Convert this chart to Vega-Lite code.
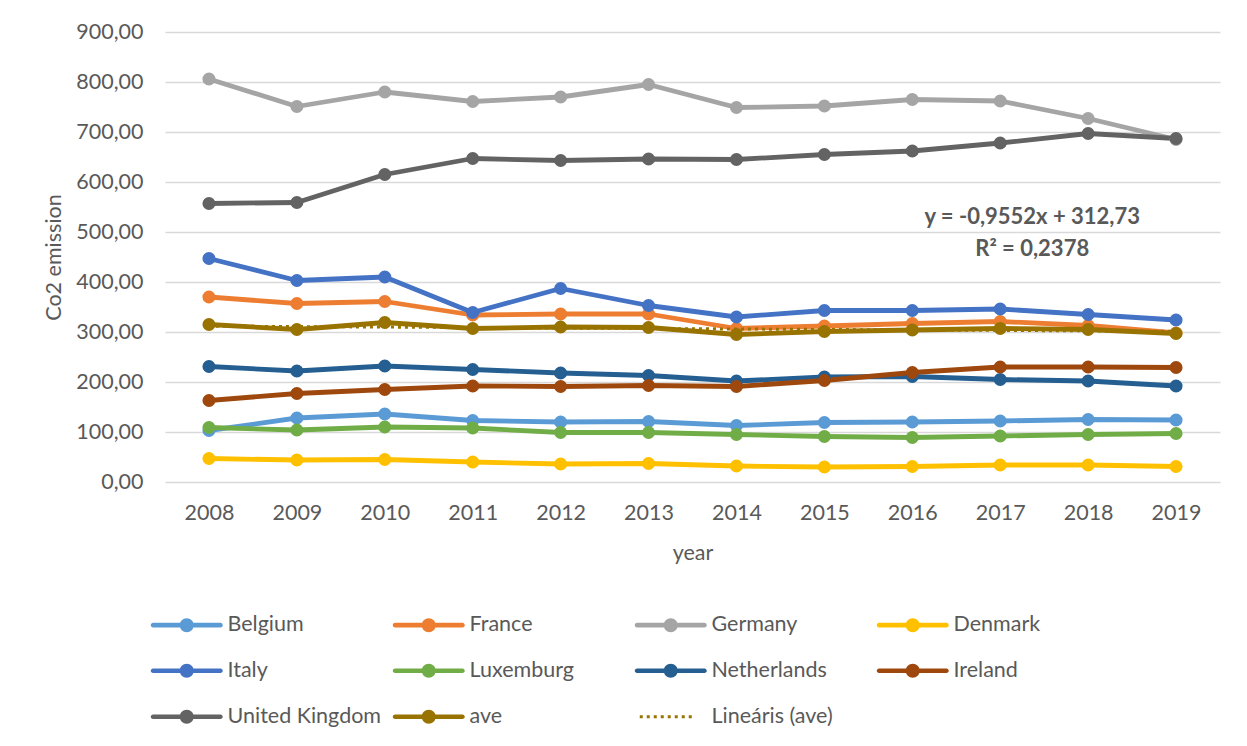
{
  "$schema": "https://vega.github.io/schema/vega-lite/v6.json",
  "width": 1055,
  "height": 450,
  "autosize": {"type": "none"},
  "padding": {"left": 165, "top": 32, "right": 27, "bottom": 264},
  "background": "white",
  "config": {
    "view": {"stroke": null},
    "font": "Lato",
    "axis": {"labelFont": "Lato", "titleFont": "Lato", "labelColor": "#595959", "titleColor": "#595959", "titleFontWeight": "normal"}
  },
  "data": {"values": [
    {"year": "2008", "series": "Belgium", "v": 103}, {"year": "2009", "series": "Belgium", "v": 128}, {"year": "2010", "series": "Belgium", "v": 136}, {"year": "2011", "series": "Belgium", "v": 123}, {"year": "2012", "series": "Belgium", "v": 120}, {"year": "2013", "series": "Belgium", "v": 121}, {"year": "2014", "series": "Belgium", "v": 113}, {"year": "2015", "series": "Belgium", "v": 119}, {"year": "2016", "series": "Belgium", "v": 120}, {"year": "2017", "series": "Belgium", "v": 122}, {"year": "2018", "series": "Belgium", "v": 125}, {"year": "2019", "series": "Belgium", "v": 124},
    {"year": "2008", "series": "France", "v": 370}, {"year": "2009", "series": "France", "v": 357}, {"year": "2010", "series": "France", "v": 361}, {"year": "2011", "series": "France", "v": 334}, {"year": "2012", "series": "France", "v": 336}, {"year": "2013", "series": "France", "v": 336}, {"year": "2014", "series": "France", "v": 307}, {"year": "2015", "series": "France", "v": 312}, {"year": "2016", "series": "France", "v": 317}, {"year": "2017", "series": "France", "v": 321}, {"year": "2018", "series": "France", "v": 313}, {"year": "2019", "series": "France", "v": 298},
    {"year": "2008", "series": "Germany", "v": 806}, {"year": "2009", "series": "Germany", "v": 751}, {"year": "2010", "series": "Germany", "v": 780}, {"year": "2011", "series": "Germany", "v": 761}, {"year": "2012", "series": "Germany", "v": 770}, {"year": "2013", "series": "Germany", "v": 795}, {"year": "2014", "series": "Germany", "v": 749}, {"year": "2015", "series": "Germany", "v": 752}, {"year": "2016", "series": "Germany", "v": 765}, {"year": "2017", "series": "Germany", "v": 762}, {"year": "2018", "series": "Germany", "v": 727}, {"year": "2019", "series": "Germany", "v": 685},
    {"year": "2008", "series": "Denmark", "v": 47}, {"year": "2009", "series": "Denmark", "v": 44}, {"year": "2010", "series": "Denmark", "v": 45}, {"year": "2011", "series": "Denmark", "v": 40}, {"year": "2012", "series": "Denmark", "v": 36}, {"year": "2013", "series": "Denmark", "v": 37}, {"year": "2014", "series": "Denmark", "v": 32}, {"year": "2015", "series": "Denmark", "v": 30}, {"year": "2016", "series": "Denmark", "v": 31}, {"year": "2017", "series": "Denmark", "v": 34}, {"year": "2018", "series": "Denmark", "v": 34}, {"year": "2019", "series": "Denmark", "v": 31},
    {"year": "2008", "series": "Italy", "v": 447}, {"year": "2009", "series": "Italy", "v": 403}, {"year": "2010", "series": "Italy", "v": 410}, {"year": "2011", "series": "Italy", "v": 339}, {"year": "2012", "series": "Italy", "v": 387}, {"year": "2013", "series": "Italy", "v": 353}, {"year": "2014", "series": "Italy", "v": 330}, {"year": "2015", "series": "Italy", "v": 343}, {"year": "2016", "series": "Italy", "v": 343}, {"year": "2017", "series": "Italy", "v": 346}, {"year": "2018", "series": "Italy", "v": 335}, {"year": "2019", "series": "Italy", "v": 324},
    {"year": "2008", "series": "Luxemburg", "v": 109}, {"year": "2009", "series": "Luxemburg", "v": 104}, {"year": "2010", "series": "Luxemburg", "v": 110}, {"year": "2011", "series": "Luxemburg", "v": 108}, {"year": "2012", "series": "Luxemburg", "v": 99}, {"year": "2013", "series": "Luxemburg", "v": 99}, {"year": "2014", "series": "Luxemburg", "v": 95}, {"year": "2015", "series": "Luxemburg", "v": 91}, {"year": "2016", "series": "Luxemburg", "v": 89}, {"year": "2017", "series": "Luxemburg", "v": 92}, {"year": "2018", "series": "Luxemburg", "v": 95}, {"year": "2019", "series": "Luxemburg", "v": 97},
    {"year": "2008", "series": "Netherlands", "v": 231}, {"year": "2009", "series": "Netherlands", "v": 222}, {"year": "2010", "series": "Netherlands", "v": 232}, {"year": "2011", "series": "Netherlands", "v": 225}, {"year": "2012", "series": "Netherlands", "v": 218}, {"year": "2013", "series": "Netherlands", "v": 213}, {"year": "2014", "series": "Netherlands", "v": 202}, {"year": "2015", "series": "Netherlands", "v": 210}, {"year": "2016", "series": "Netherlands", "v": 211}, {"year": "2017", "series": "Netherlands", "v": 205}, {"year": "2018", "series": "Netherlands", "v": 202}, {"year": "2019", "series": "Netherlands", "v": 192},
    {"year": "2008", "series": "Ireland", "v": 163}, {"year": "2009", "series": "Ireland", "v": 177}, {"year": "2010", "series": "Ireland", "v": 185}, {"year": "2011", "series": "Ireland", "v": 192}, {"year": "2012", "series": "Ireland", "v": 191}, {"year": "2013", "series": "Ireland", "v": 193}, {"year": "2014", "series": "Ireland", "v": 191}, {"year": "2015", "series": "Ireland", "v": 203}, {"year": "2016", "series": "Ireland", "v": 219}, {"year": "2017", "series": "Ireland", "v": 230}, {"year": "2018", "series": "Ireland", "v": 230}, {"year": "2019", "series": "Ireland", "v": 229},
    {"year": "2008", "series": "United Kingdom", "v": 557}, {"year": "2009", "series": "United Kingdom", "v": 559}, {"year": "2010", "series": "United Kingdom", "v": 615}, {"year": "2011", "series": "United Kingdom", "v": 647}, {"year": "2012", "series": "United Kingdom", "v": 643}, {"year": "2013", "series": "United Kingdom", "v": 646}, {"year": "2014", "series": "United Kingdom", "v": 645}, {"year": "2015", "series": "United Kingdom", "v": 655}, {"year": "2016", "series": "United Kingdom", "v": 662}, {"year": "2017", "series": "United Kingdom", "v": 678}, {"year": "2018", "series": "United Kingdom", "v": 697}, {"year": "2019", "series": "United Kingdom", "v": 687},
    {"year": "2008", "series": "ave", "v": 315}, {"year": "2009", "series": "ave", "v": 305}, {"year": "2010", "series": "ave", "v": 319}, {"year": "2011", "series": "ave", "v": 307}, {"year": "2012", "series": "ave", "v": 310}, {"year": "2013", "series": "ave", "v": 309}, {"year": "2014", "series": "ave", "v": 295}, {"year": "2015", "series": "ave", "v": 301}, {"year": "2016", "series": "ave", "v": 304}, {"year": "2017", "series": "ave", "v": 307}, {"year": "2018", "series": "ave", "v": 305}, {"year": "2019", "series": "ave", "v": 297},
    {"year": "2008", "series": "Lineáris (ave)", "v": 311.77}, {"year": "2009", "series": "Lineáris (ave)", "v": 310.82}, {"year": "2010", "series": "Lineáris (ave)", "v": 309.86}, {"year": "2011", "series": "Lineáris (ave)", "v": 308.91}, {"year": "2012", "series": "Lineáris (ave)", "v": 307.95}, {"year": "2013", "series": "Lineáris (ave)", "v": 307.0}, {"year": "2014", "series": "Lineáris (ave)", "v": 306.04}, {"year": "2015", "series": "Lineáris (ave)", "v": 305.09}, {"year": "2016", "series": "Lineáris (ave)", "v": 304.13}, {"year": "2017", "series": "Lineáris (ave)", "v": 303.18}, {"year": "2018", "series": "Lineáris (ave)", "v": 302.22}, {"year": "2019", "series": "Lineáris (ave)", "v": 301.27}
  ]},
  "encoding": {
    "x": {
      "field": "year", "type": "ordinal",
      "scale": {"type": "point", "padding": 0.5},
      "axis": {"title": "year", "labelAngle": 0, "labelFontSize": 21.5, "titleFontSize": 21.5, "labelPadding": 20, "titlePadding": 19, "ticks": false, "domain": false, "grid": false}
    },
    "y": {
      "field": "v", "type": "quantitative",
      "scale": {"domain": [0, 900], "nice": false},
      "axis": {"title": "Co2 emission", "values": [0, 100, 200, 300, 400, 500, 600, 700, 800, 900], "labelExpr": "replace(format(datum.value, '.2f'), '.', ',')", "labelFontSize": 21.5, "titleFontSize": 21.5, "labelPadding": 22, "titlePadding": 10, "ticks": false, "domain": false, "gridColor": "#D9D9D9", "gridWidth": 1.5}
    }
  },
  "layer": [
    {
      "transform": [{"filter": "datum.series !== 'Lineáris (ave)'"}],
      "mark": {"type": "line", "strokeWidth": 4.8, "strokeCap": "round", "strokeJoin": "round", "point": {"filled": true, "size": 170, "opacity": 1}},
      "encoding": {
        "color": {
          "field": "series", "type": "nominal",
          "scale": {"domain": ["Belgium", "France", "Germany", "Denmark", "Italy", "Luxemburg", "Netherlands", "Ireland", "United Kingdom", "ave", "Lineáris (ave)"], "range": ["#5B9BD5", "#ED7D31", "#A5A5A5", "#FFC000", "#4472C4", "#70AD47", "#255E91", "#9E480E", "#636363", "#997300", "#997300"]},
          "legend": {
            "title": null, "orient": "none", "direction": "horizontal", "legendX": -15, "legendY": 582, "columns": 4, "gridAlign": "all", "columnPadding": 10, "rowPadding": 23, "padding": 0,
            "labelOffset": 56, "labelFont": "Lato", "labelFontSize": 21.5, "labelColor": "#595959", "labelLimit": 400, "symbolSize": 400,
            "encode": {"symbols": {"update": {
              "shape": {"signal": "datum.value === 'Lineáris (ave)' ? 'M-0.5,-0.15h0.3v0.3h-0.3z M0.2,-0.15h0.3v0.3h-0.3z M0.9,-0.15h0.3v0.3h-0.3z M1.6,-0.15h0.3v0.3h-0.3z M2.3,-0.15h0.3v0.3h-0.3z M3.0,-0.15h0.3v0.3h-0.3z M3.7,-0.15h0.3v0.3h-0.3z M4.4,-0.15h0.3v0.3h-0.3z' : 'M-0.77,-0.23H5.97A0.23,0.23 0 0 1 5.97,0.23H-0.77A0.23,0.23 0 0 1 -0.77,-0.23Z M1.9,0A0.7,0.7 0 0 1 3.3,0A0.7,0.7 0 0 1 1.9,0Z'"},
              "fill": {"signal": "scale('color', datum.value)"},
              "fillOpacity": {"value": 1},
              "opacity": {"value": 1},
              "stroke": {"value": "transparent"},
              "strokeWidth": {"value": 0},
              "size": {"value": 400}
            }}}
          }
        },
        "detail": {"field": "series"}
      }
    },
    {
      "transform": [{"filter": "datum.series === 'Lineáris (ave)'"}],
      "mark": {"type": "line", "strokeWidth": 3, "strokeDash": [3, 4]},
      "encoding": {
        "color": {"field": "series", "type": "nominal"}
      }
    },
    {
      "data": {"values": [
        {"year": "2017", "v": 530, "t": "y = -0,9552x + 312,73"},
        {"year": "2017", "v": 466, "t": "R² = 0,2378"}
      ]},
      "mark": {"type": "text", "font": "Lato", "fontWeight": "bold", "fontSize": 22, "color": "#595959", "dx": 32, "align": "center", "baseline": "middle"},
      "encoding": {"text": {"field": "t"}}
    }
  ]
}
